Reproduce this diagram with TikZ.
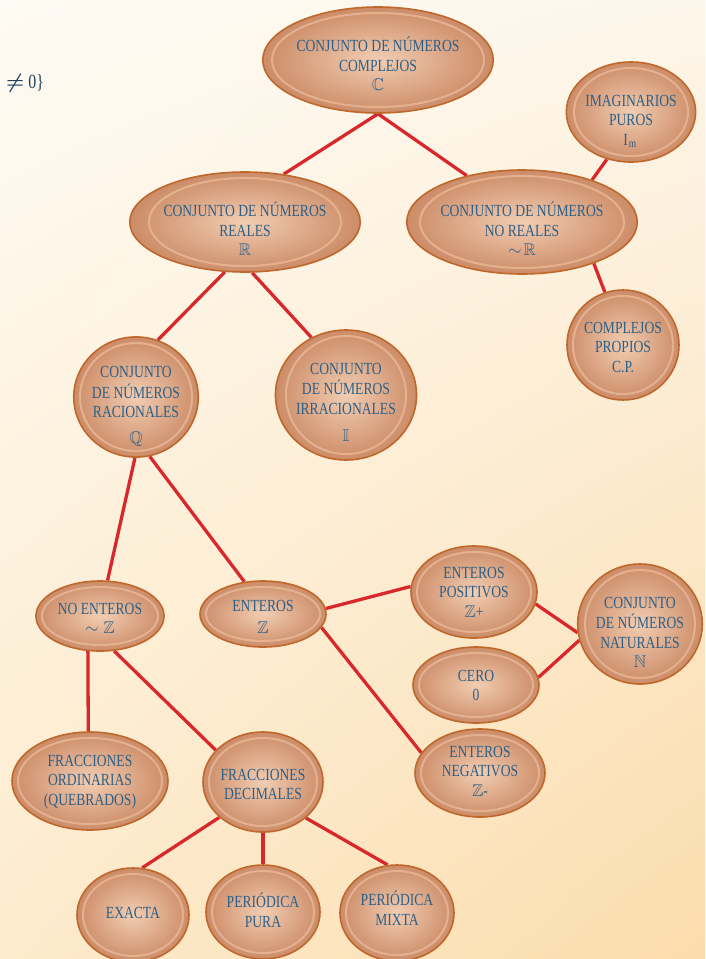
\documentclass[tikz,border=0pt]{standalone}
\usepackage{amsmath}
\usepackage{fontspec}
\setmainfont[FakeStretch=0.8]{Liberation Serif}
\usepackage{amssymb}
\usetikzlibrary{shapes.geometric,shadings}
\pgfdeclarelayer{back}\pgfdeclarelayer{lines}\pgfsetlayers{back,lines,main}
\definecolor{bord}{HTML}{C0672C}
\definecolor{inC}{HTML}{F2CDB2}
\definecolor{outC}{HTML}{CC8C68}
\definecolor{hl}{HTML}{EDBE9E}
\definecolor{txt}{HTML}{2C6088}
\definecolor{lnk}{HTML}{D8282C}
\definecolor{bgA}{HTML}{FEFBF4}
\definecolor{bgB}{HTML}{FDF6EA}
\definecolor{bgC}{HTML}{FDEBCD}
\definecolor{bgD}{HTML}{FBDCAC}
\newcommand\bubfont{\fontsize{17}{19.5}\selectfont}
% text block lowered by #1 inside its node
\newcommand\tx[2][4pt]{\raisebox{-#1}[\height][\depth]{\begin{tabular}{@{}c@{}}#2\end{tabular}}}
\begin{document}
\begin{tikzpicture}[x=1pt,y=-1pt,
  bub/.style 2 args={ellipse, draw=bord, line width=1.6pt, inner sep=0pt,
    minimum width=2*#1, minimum height=2*#2, inner color=inC, outer color=outC,
    text=txt, font=\bubfont,
    path picture={\draw[hl, line width=2pt, opacity=0.7] (path picture bounding box.center) ellipse [x radius=#1-6, y radius=#2-6];}},
  link/.style={draw=lnk, line width=3.3pt}]
\useasboundingbox (0,0) rectangle (705,959);
\begin{pgfonlayer}{back}
\shade[upper left=bgA, upper right=bgB, lower left=bgC, lower right=bgD] (0,0) rectangle (705,959);
\end{pgfonlayer}
\node[anchor=west, text=txt!70!black, font=\fontsize{20}{22}\selectfont, inner sep=0pt] (frag) at (6,83) {$\boldsymbol{\neq}$\ 0\}};
\node[bub={112}{53}] (COMP) at (378,60) {\tx[7pt]{CONJUNTO DE NÚMEROS\\COMPLEJOS\\$\mathbb{C}$}};
\node[bub={63}{50}] (IMAG) at (631,112) {\tx[10pt]{IMAGINARIOS\\PUROS\\$\mathrm{I}_{\mathrm{m}}$}};
\node[bub={102}{50}] (REAL) at (245,222) {\tx[10pt]{CONJUNTO DE NÚMEROS\\REALES\\$\mathbb{R}$}};
\node[bub={108}{52}] (NOREAL) at (522,222) {\tx[10pt]{CONJUNTO DE NÚMEROS\\NO REALES\\$\sim\!\mathbb{R}$}};
\node[bub={56}{55}] (CP) at (623,345) {\tx[4pt]{COMPLEJOS\\PROPIOS\\C.P.}};
\node[bub={62}{60}] (RAC) at (136,397) {\tx[9.5pt]{CONJUNTO\\DE NÚMEROS\\RACIONALES\\[6pt]$\mathbb{Q}$}};
\node[bub={66}{65}] (IRR) at (346,395) {\tx[9pt]{CONJUNTO\\DE NÚMEROS\\IRRACIONALES\\[8pt]$\mathbb{I}$}};
\node[bub={64}{35}] (NOENT) at (100,616) {\tx[4pt]{NO ENTEROS\\$\sim\mathbb{Z}$}};
\node[bub={63}{33}] (ENT) at (263,614) {\tx[4.5pt]{ENTEROS\\[3pt]$\mathbb{Z}$}};
\node[bub={63}{46}] (EPOS) at (474,592) {\tx[2pt]{ENTEROS\\POSITIVOS\\$\mathbb{Z}$+}};
\node[bub={61}{60}] (NAT) at (640,624) {\tx[10pt]{CONJUNTO\\DE NÚMEROS\\NATURALES\\$\mathbb{N}$}};
\node[bub={63}{38}] (CERO) at (476,685) {\tx[2pt]{CERO\\0}};
\node[bub={65}{44}] (ENEG) at (480,773) {\tx[0pt]{ENTEROS\\NEGATIVOS\\$\mathbb{Z}$-}};
\node[bub={78}{49}] (FORD) at (90,781) {\tx[1pt]{FRACCIONES\\ORDINARIAS\\(QUEBRADOS)}};
\node[bub={60}{50}] (FDEC) at (263,782) {\tx[4pt]{FRACCIONES\\DECIMALES}};
\node[bub={56}{47}] (EXA) at (133,915) {\tx[0pt]{EXACTA}};
\node[bub={57}{47}] (PPU) at (263,912) {\tx[1pt]{PERIÓDICA\\PURA}};
\node[bub={57}{48}] (PMI) at (397,913) {\tx[-2pt]{PERIÓDICA\\MIXTA}};
\begin{pgfonlayer}{lines}
\draw[link] (COMP.south) -- (REAL.51);
\draw[link] (COMP.south) -- (NOREAL.140);
\draw[link] (NOREAL.31) -- (IMAG.243);
\draw[link] (NOREAL.330) -- (CP.109);
\draw[link] (REAL.248) -- (RAC.69);
\draw[link] (REAL.278) -- (IRR.121);
\draw[link] (RAC.269) -- (NOENT.78);
\draw[link] (RAC.283) -- (ENT.120);
\draw[link] (NOENT.251) -- (FORD.92);
\draw[link] (NOENT.292) -- (FDEC.146);
\draw[link] (ENT.5) -- (EPOS.175);
\draw[link] (ENT.347) -- (ENEG.161);
\draw[link] (EPOS.349) -- (NAT.188);
\draw[link] (CERO.7) -- (NAT.195);
\draw[link] (FDEC.219) -- (EXA.79);
\draw[link] (FDEC.270) -- (PPU.90);
\draw[link] (FDEC.320) -- (PMI.101);
\end{pgfonlayer}
\end{tikzpicture}
\end{document}
